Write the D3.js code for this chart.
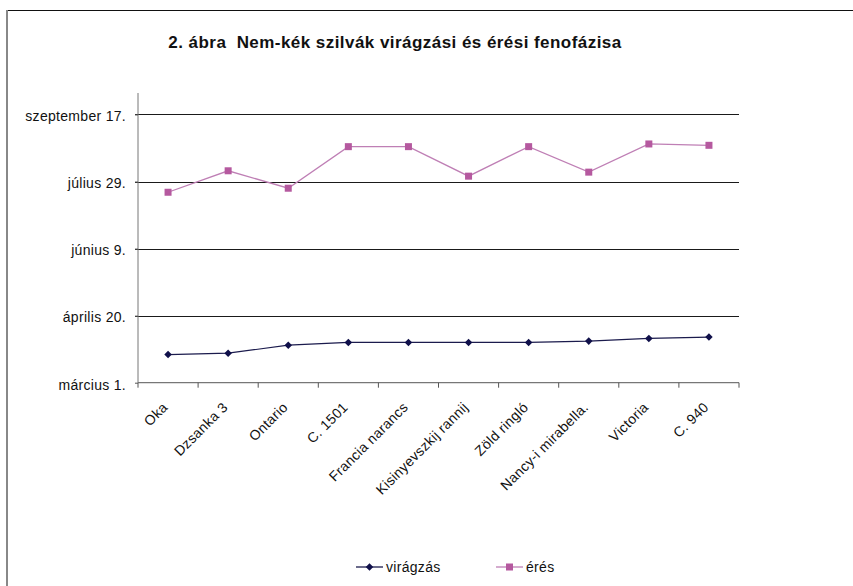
<!DOCTYPE html>
<html><head><meta charset="utf-8">
<script src="https://cdn.jsdelivr.net/npm/d3@7"></script>
<style>body{margin:0;background:#fff}svg{display:block;font-family:Arial,"Liberation Sans",sans-serif}</style>
</head><body><svg id="c" width="853" height="586"></svg>
<script>
const title = "2. ábra\u00a0\u00a0Nem-kék szilvák virágzási és érési fenofázisa";
const categories = ["Oka","Dzsanka 3","Ontario","C. 1501","Francia narancs","Kisinyevszkij rannij","Zöld ringló","Nancy-i mirabella.","Victoria","C. 940"];
const viragzas = ["2007-03-22","2007-03-23","2007-03-29","2007-03-31","2007-03-31","2007-03-31","2007-03-31","2007-04-01","2007-04-03","2007-04-04"];
const eres = ["2007-07-21","2007-08-06","2007-07-24","2007-08-24","2007-08-24","2007-08-02","2007-08-24","2007-08-05","2007-08-26","2007-08-25"];
const tickDates = ["2007-03-01","2007-04-20","2007-06-09","2007-07-29","2007-09-17"];
const tickLabels = ["március 1.","április 20.","június 9.","július 29.","szeptember 17."];
const axisMax = "2007-10-03";
const seriesNames = ["virágzás","érés"];

const parse = d3.timeParse("%Y-%m-%d");
const svg = d3.select("#c");
const L = 138, R = 739, T = 93, B = 382.7;
const FONT = "Arial, 'Liberation Sans', sans-serif";

// frame
svg.append("line").attr("x1",7).attr("x2",853).attr("y1",10.5).attr("y2",10.5).attr("stroke","#111").attr("stroke-width",1.2);
svg.append("line").attr("x1",7).attr("x2",7).attr("y1",10).attr("y2",586).attr("stroke","#888").attr("stroke-width",2);

svg.append("text").attr("x",395).attr("y",48).attr("text-anchor","middle")
  .attr("font-size",17).attr("font-weight","bold").attr("letter-spacing","0.45px").attr("fill","#111").text(title);

const x = d3.scaleBand().domain(categories).range([L,R]);
const y = d3.scaleTime().domain([parse(tickDates[0]), parse(axisMax)]).range([B,T]);
const ticks = tickDates.map(parse);

// gridlines
svg.append("g").selectAll("line").data(ticks.slice(1)).join("line")
  .attr("x1",L-3).attr("x2",R).attr("y1",d=>Math.round(y(d))+0.5).attr("y2",d=>Math.round(y(d))+0.5)
  .attr("stroke","#1a1a1a").attr("stroke-width",1);

// y axis
const yAxis = d3.axisLeft(y).tickValues(ticks).tickSize(3).tickPadding(9)
  .tickFormat((d,i)=>tickLabels[i]);
const gy = svg.append("g").attr("transform",`translate(${L},0)`).call(yAxis);
gy.select(".domain").attr("stroke","#777").attr("d",`M-0,${T}V${B}`);
gy.selectAll(".tick line").attr("stroke","#555");
gy.selectAll("text").attr("font-size",14).attr("letter-spacing","0.3px").attr("fill","#111").attr("font-family",FONT).attr("dy","0.45em");

// x axis
const xAxis = d3.axisBottom(x).tickSize(0).tickPadding(0);
const gx = svg.append("g").attr("transform",`translate(0,${B})`).call(xAxis);
gx.select(".domain").attr("stroke","#777").attr("stroke-width",1.2).attr("d",`M${L},0H${R}`);
gx.selectAll(".tick text").attr("font-size",14).attr("letter-spacing","0.3px").attr("fill","#111").attr("font-family",FONT)
  .attr("text-anchor","end").attr("transform","translate(-3,22) rotate(-45)").attr("dy","0.35em").attr("y",0);
// boundary ticks
const bounds = categories.map(c=>x(c)).concat([R]);
gx.append("g").selectAll("line").data(bounds).join("line")
  .attr("x1",d=>d).attr("x2",d=>d).attr("y1",0).attr("y2",5).attr("stroke","#555");

const cx = c => x(c) + x.bandwidth()/2;
const line = d3.line().x((d,i)=>cx(categories[i])).y(d=>y(parse(d)));

// series érés
svg.append("path").datum(eres).attr("d",line).attr("fill","none").attr("stroke","#bf7fb5").attr("stroke-width",1.3);
svg.append("g").selectAll("rect").data(eres).join("rect")
  .attr("x",(d,i)=>cx(categories[i])-3.5).attr("y",d=>y(parse(d))-3.5).attr("width",7).attr("height",7).attr("fill","#b5599f");

// series virágzás
svg.append("path").datum(viragzas).attr("d",line).attr("fill","none").attr("stroke","#1b1b4d").attr("stroke-width",1.2);
const diamond = d3.symbol().type(d3.symbolDiamond2 || d3.symbolDiamond).size(36);
svg.append("g").selectAll("path").data(viragzas).join("path")
  .attr("transform",(d,i)=>`translate(${cx(categories[i])},${y(parse(d))})`)
  .attr("d",diamond).attr("fill","#10104a");

// legend
const lg = svg.append("g").attr("font-size",14).attr("letter-spacing","0.3px").attr("fill","#111");
const legendX = [356, 496];
seriesNames.forEach((n,i)=>{
  const g = lg.append("g").attr("transform",`translate(${legendX[i]},567)`);
  g.append("line").attr("x1",0).attr("x2",27).attr("y1",0).attr("y2",0)
    .attr("stroke", i===0 ? "#1b1b4d" : "#bf7fb5").attr("stroke-width",1.3);
  if(i===0) g.append("path").attr("transform","translate(13.5,0)").attr("d",diamond).attr("fill","#10104a");
  else g.append("rect").attr("x",10).attr("y",-3.5).attr("width",7).attr("height",7).attr("fill","#b5599f");
  g.append("text").attr("x",30).attr("y",0).attr("dy","0.35em").attr("fill","#111").text(n);
});
</script></body></html>
